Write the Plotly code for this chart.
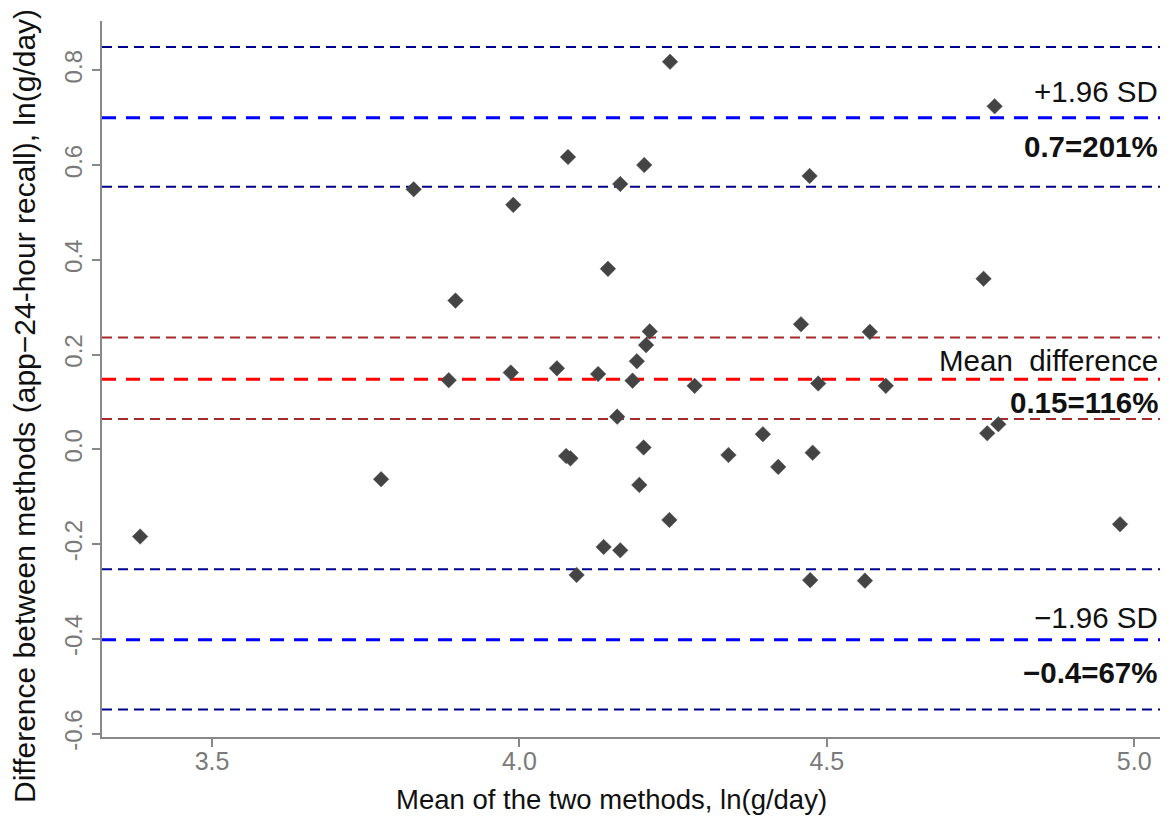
import plotly.graph_objects as go

# Data (mean of methods, difference of methods), ln(g/day)
mean_vals = [3.383, 3.775, 3.828, 3.885, 3.896, 3.986, 3.990, 4.061, 4.076, 4.083,
             4.079, 4.093, 4.128, 4.137, 4.144, 4.159, 4.164, 4.164, 4.184, 4.191,
             4.195, 4.202, 4.203, 4.206, 4.212, 4.244, 4.245, 4.285, 4.340, 4.396,
             4.421, 4.458, 4.472, 4.473, 4.477, 4.486, 4.562, 4.570, 4.596, 4.755,
             4.761, 4.773, 4.779, 4.977]
diff_vals = [-0.184, -0.063, 0.549, 0.146, 0.314, 0.162, 0.516, 0.171, -0.014, -0.019,
             0.617, -0.265, 0.159, -0.206, 0.381, 0.069, 0.560, -0.213, 0.145, 0.186,
             -0.075, 0.004, 0.600, 0.220, 0.249, -0.149, 0.818, 0.134, -0.012, 0.032,
             -0.037, 0.264, 0.577, -0.276, -0.007, 0.139, -0.277, 0.248, 0.134, 0.360,
             0.034, 0.724, 0.053, -0.158]

mean_diff = 0.148
mean_ci = [0.064, 0.236]
upper_loa = 0.700
upper_ci = [0.554, 0.849]
lower_loa = -0.402
lower_ci = [-0.549, -0.253]

x_ticks = [3.5, 4.0, 4.5, 5.0]
x_ticklabels = ["3.5", "4.0", "4.5", "5.0"]
y_ticks = [-0.6, -0.4, -0.2, 0.0, 0.2, 0.4, 0.6, 0.8]
y_ticklabels = ["-0.6", "-0.4", "-0.2", "0.0", "0.2", "0.4", "0.6", "0.8"]

x_title = "Mean of the two methods, ln(g/day)"
y_title = "Difference between methods (app\u221224-hour recall), ln(g/day)"

FONT = "Liberation Sans, Arial, Helvetica, sans-serif"

fig = go.Figure()
fig.add_trace(go.Scatter(
    x=mean_vals, y=diff_vals, mode="markers",
    marker=dict(symbol="diamond", size=12, color="#444444",
                line=dict(width=0.5, color="#555555")),
    showlegend=False, hoverinfo="x+y"))

def hline(y, color, width, dash):
    fig.add_shape(type="line", xref="paper", yref="y", x0=0, x1=1, y0=y, y1=y,
                  line=dict(color=color, width=width, dash=dash), layer="below")

for v in upper_ci + lower_ci:
    hline(v, "#00008B", 2, "10px,6px")
for v in mean_ci:
    hline(v, "#A52A2A", 2, "10px,6px")
hline(upper_loa, "#0000FF", 3, "14px,10px")
hline(lower_loa, "#0000FF", 3, "14px,10px")
hline(mean_diff, "#FF0000", 3, "14px,10px")

def label(y, text, shift, bold=False):
    fig.add_annotation(xref="paper", yref="y", x=1.0, y=y, xanchor="right",
                       yanchor="middle", yshift=shift, showarrow=False,
                       text=("<b>%s</b>" % text) if bold else text,
                       font=dict(family=FONT, size=29.5, color="#111111"))

label(upper_loa, "+1.96 SD", 26)
label(upper_loa, "%.1f=201%%" % upper_loa, -29, bold=True)
label(mean_diff, "Mean  difference", 19)
label(mean_diff, "%.2f=116%%" % mean_diff, -23, bold=True)
label(lower_loa, "\u22121.96 SD", 22)
label(lower_loa, "\u2212%.1f=67%%" % abs(lower_loa), -33, bold=True)

# axis titles (placed as in the reference, slightly off-centre)
fig.add_annotation(xref="paper", yref="paper", x=0.4816, y=0.0, yshift=-62,
                   xanchor="center", yanchor="middle", showarrow=False,
                   text=x_title, font=dict(family=FONT, size=27.5, color="#111111"))
fig.add_annotation(xref="paper", yref="paper", x=-0.0728, y=0.4623,
                   xanchor="center", yanchor="middle", showarrow=False, textangle=-90,
                   text=y_title, font=dict(family=FONT, size=30, color="#111111"))

fig.update_layout(
    width=1168, height=816,
    margin=dict(l=102, r=8, t=21, b=79, autoexpand=False),
    paper_bgcolor="white", plot_bgcolor="white",
    font=dict(family=FONT),
    xaxis=dict(range=[3.321, 5.042], tickvals=x_ticks, ticktext=x_ticklabels,
               showgrid=False, zeroline=False, showline=True, linecolor="#888888",
               linewidth=2, ticks="outside", ticklen=8, tickwidth=1.5,
               tickcolor="#888888", tickfont=dict(size=25, color="#7a7a7a"),
               ticklabelstandoff=-7, automargin=False),
    yaxis=dict(range=[-0.607, 0.904], tickvals=y_ticks, ticktext=y_ticklabels,
               showgrid=False, zeroline=False, showline=True, linecolor="#888888",
               linewidth=2, ticks="outside", ticklen=8, tickwidth=1.5,
               tickcolor="#888888", tickangle=-90, tickfont=dict(size=24, color="#7a7a7a"),
               automargin=False),
)

fig.write_html("out.html")
